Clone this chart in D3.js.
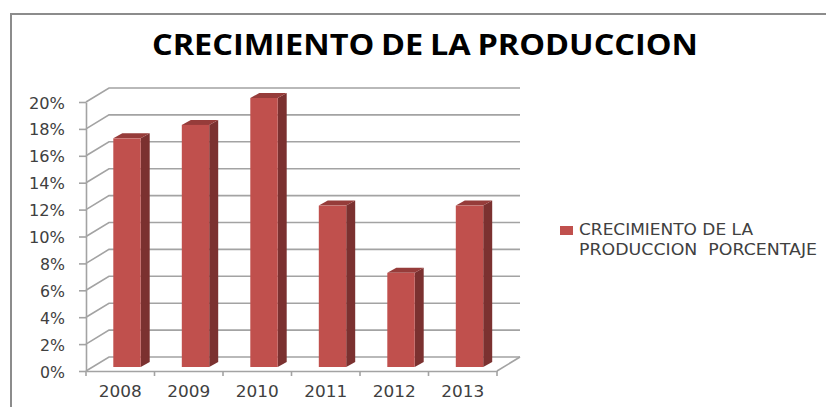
<!DOCTYPE html>
<html>
<head>
<meta charset="utf-8">
<script src="https://cdn.jsdelivr.net/npm/d3@7"></script>
<style>
  html, body { margin: 0; padding: 0; background: #fff; overflow: hidden; }
  svg { display: block; }
  .axisText { font-family: "DejaVu Sans", sans-serif; font-size: 15px; fill: #404040; }
</style>
</head>
<body>
<div id="chart"></div>
<script>
const years = ["2008", "2009", "2010", "2011", "2012", "2013"];
const growth = [17, 18, 20, 12, 7, 12];
const yTicks = [0, 2, 4, 6, 8, 10, 12, 14, 16, 18, 20];
const chartTitle = "CRECIMIENTO DE LA PRODUCCION";
const legendLines = ["CRECIMIENTO DE LA", "PRODUCCION  PORCENTAJE"];

const svgWidth = 826;
const svgHeight = 407;

const plot = { left: 86, right: 497, top: 102, bottom: 371 };
// 3d look: back wall offset and bar depth
const wall = { dx: 23, dy: -14 };
const depth = { dx: 9, dy: -5 };
const barShift = { dx: 6.75, dy: -4 };

const svg = d3.select("#chart")
    .append("svg")
    .attr("width", svgWidth)
    .attr("height", svgHeight);

// frame of the chart, runs off the picture on the right and bottom
svg.append("path")
    .attr("d", `M11,${svgHeight} V14 H${svgWidth}`)
    .attr("fill", "none")
    .attr("stroke", "#8c8c8c")
    .attr("stroke-width", 2);

svg.append("text")
    .attr("x", 152)
    .attr("y", 55)
    .attr("textLength", 546)
    .attr("lengthAdjust", "spacingAndGlyphs")
    .style("font-family", "'Open Sans', sans-serif")
    .style("font-weight", 700)
    .style("font-size", "28px")
    .style("word-spacing", "-1.5px")
    .style("fill", "#000")
    .text(chartTitle);

const xScale = d3.scaleBand()
    .domain(years)
    .range([plot.left, plot.right])
    .paddingInner(0.6)
    .paddingOuter(0.3);

const yScale = d3.scaleLinear()
    .domain([0, 20])
    .range([plot.bottom, plot.top]);

const gridColor = "#a3a3a3";

// back wall lines and the diagonals coming to the axis
const grid = svg.append("g");

grid.selectAll(".wallLine")
    .data(yTicks)
    .enter()
    .append("path")
    .attr("class", "wallLine")
    .attr("fill", "none")
    .attr("stroke", gridColor)
    .attr("stroke-width", 1.6)
    .attr("d", d => {
        const y = yScale(d);
        return `M${plot.left},${y} L${plot.left + wall.dx},${y + wall.dy} H${plot.right + wall.dx}`;
    });

// right side of the floor
grid.append("line")
    .attr("x1", plot.right)
    .attr("y1", plot.bottom)
    .attr("x2", plot.right + wall.dx)
    .attr("y2", plot.bottom + wall.dy)
    .attr("stroke", gridColor)
    .attr("stroke-width", 1.6);

const leftAxis = d3.axisLeft(yScale)
    .tickValues(yTicks)
    .tickFormat(d => d + "%")
    .tickSize(7)
    .tickPadding(14)
    .tickSizeOuter(0);

const yAxis = svg.append("g")
    .attr("transform", `translate(${plot.left}, 0)`)
    .call(leftAxis);

const bottomAxis = d3.axisBottom(xScale)
    .tickSize(0)
    .tickPadding(15)
    .tickSizeOuter(0);

const xAxis = svg.append("g")
    .attr("transform", `translate(0, ${plot.bottom})`)
    .call(bottomAxis);

[yAxis, xAxis].forEach(axis => {
    axis.select(".domain").attr("stroke", gridColor).attr("stroke-width", 1.6);
    axis.selectAll("line").attr("stroke", gridColor).attr("stroke-width", 1.6);
    axis.selectAll("text").attr("class", "axisText").attr("font-family", null).attr("font-size", null);
});
// the reference text is stretched sideways
yAxis.selectAll("text")
    .attr("dy", "0.4em")
    .attr("textLength", d => d >= 10 ? 36 : 25)
    .attr("lengthAdjust", "spacingAndGlyphs");
xAxis.selectAll("text")
    .attr("textLength", 43)
    .attr("lengthAdjust", "spacingAndGlyphs");

// tick marks sit between the categories
svg.append("g")
    .selectAll("line")
    .data(d3.range(years.length + 1))
    .enter()
    .append("line")
    .attr("x1", i => plot.left + i * xScale.step())
    .attr("x2", i => plot.left + i * xScale.step())
    .attr("y1", plot.bottom)
    .attr("y2", plot.bottom + 5)
    .attr("stroke", gridColor)
    .attr("stroke-width", 1.6);

const bars = svg.selectAll(".bar")
    .data(growth)
    .enter()
    .append("g")
    .attr("class", "bar")
    .attr("transform", (d, i) => `translate(${xScale(years[i]) + barShift.dx}, ${barShift.dy})`);

const barW = xScale.bandwidth();

// side face
bars.append("path")
    .attr("fill", "#7b3130")
    .attr("d", d => `M${barW},${yScale(d)} l${depth.dx},${depth.dy} V${plot.bottom + depth.dy} l${-depth.dx},${-depth.dy} Z`);

// top face
bars.append("path")
    .attr("fill", "#963c3a")
    .attr("d", d => `M0,${yScale(d)} l${depth.dx},${depth.dy} h${barW} l${-depth.dx},${-depth.dy} Z`);

// front face
bars.append("rect")
    .attr("x", 0)
    .attr("y", d => yScale(d))
    .attr("width", barW)
    .attr("height", d => plot.bottom - yScale(d))
    .attr("fill", "#c0504d");

// legend
svg.append("rect")
    .attr("x", 560)
    .attr("y", 226)
    .attr("width", 13)
    .attr("height", 9)
    .attr("fill", "#c0504d");

svg.selectAll(".legendText")
    .data(legendLines)
    .enter()
    .append("text")
    .attr("class", "legendText axisText")
    .attr("x", 579)
    .attr("y", (d, i) => 235 + i * 20)
    .attr("textLength", (d, i) => i === 0 ? 174 : 238)
    .attr("lengthAdjust", "spacingAndGlyphs")
    .style("font-size", "15.5px")
    .style("white-space", "pre")
    .text(d => d);
</script>
</body>
</html>
